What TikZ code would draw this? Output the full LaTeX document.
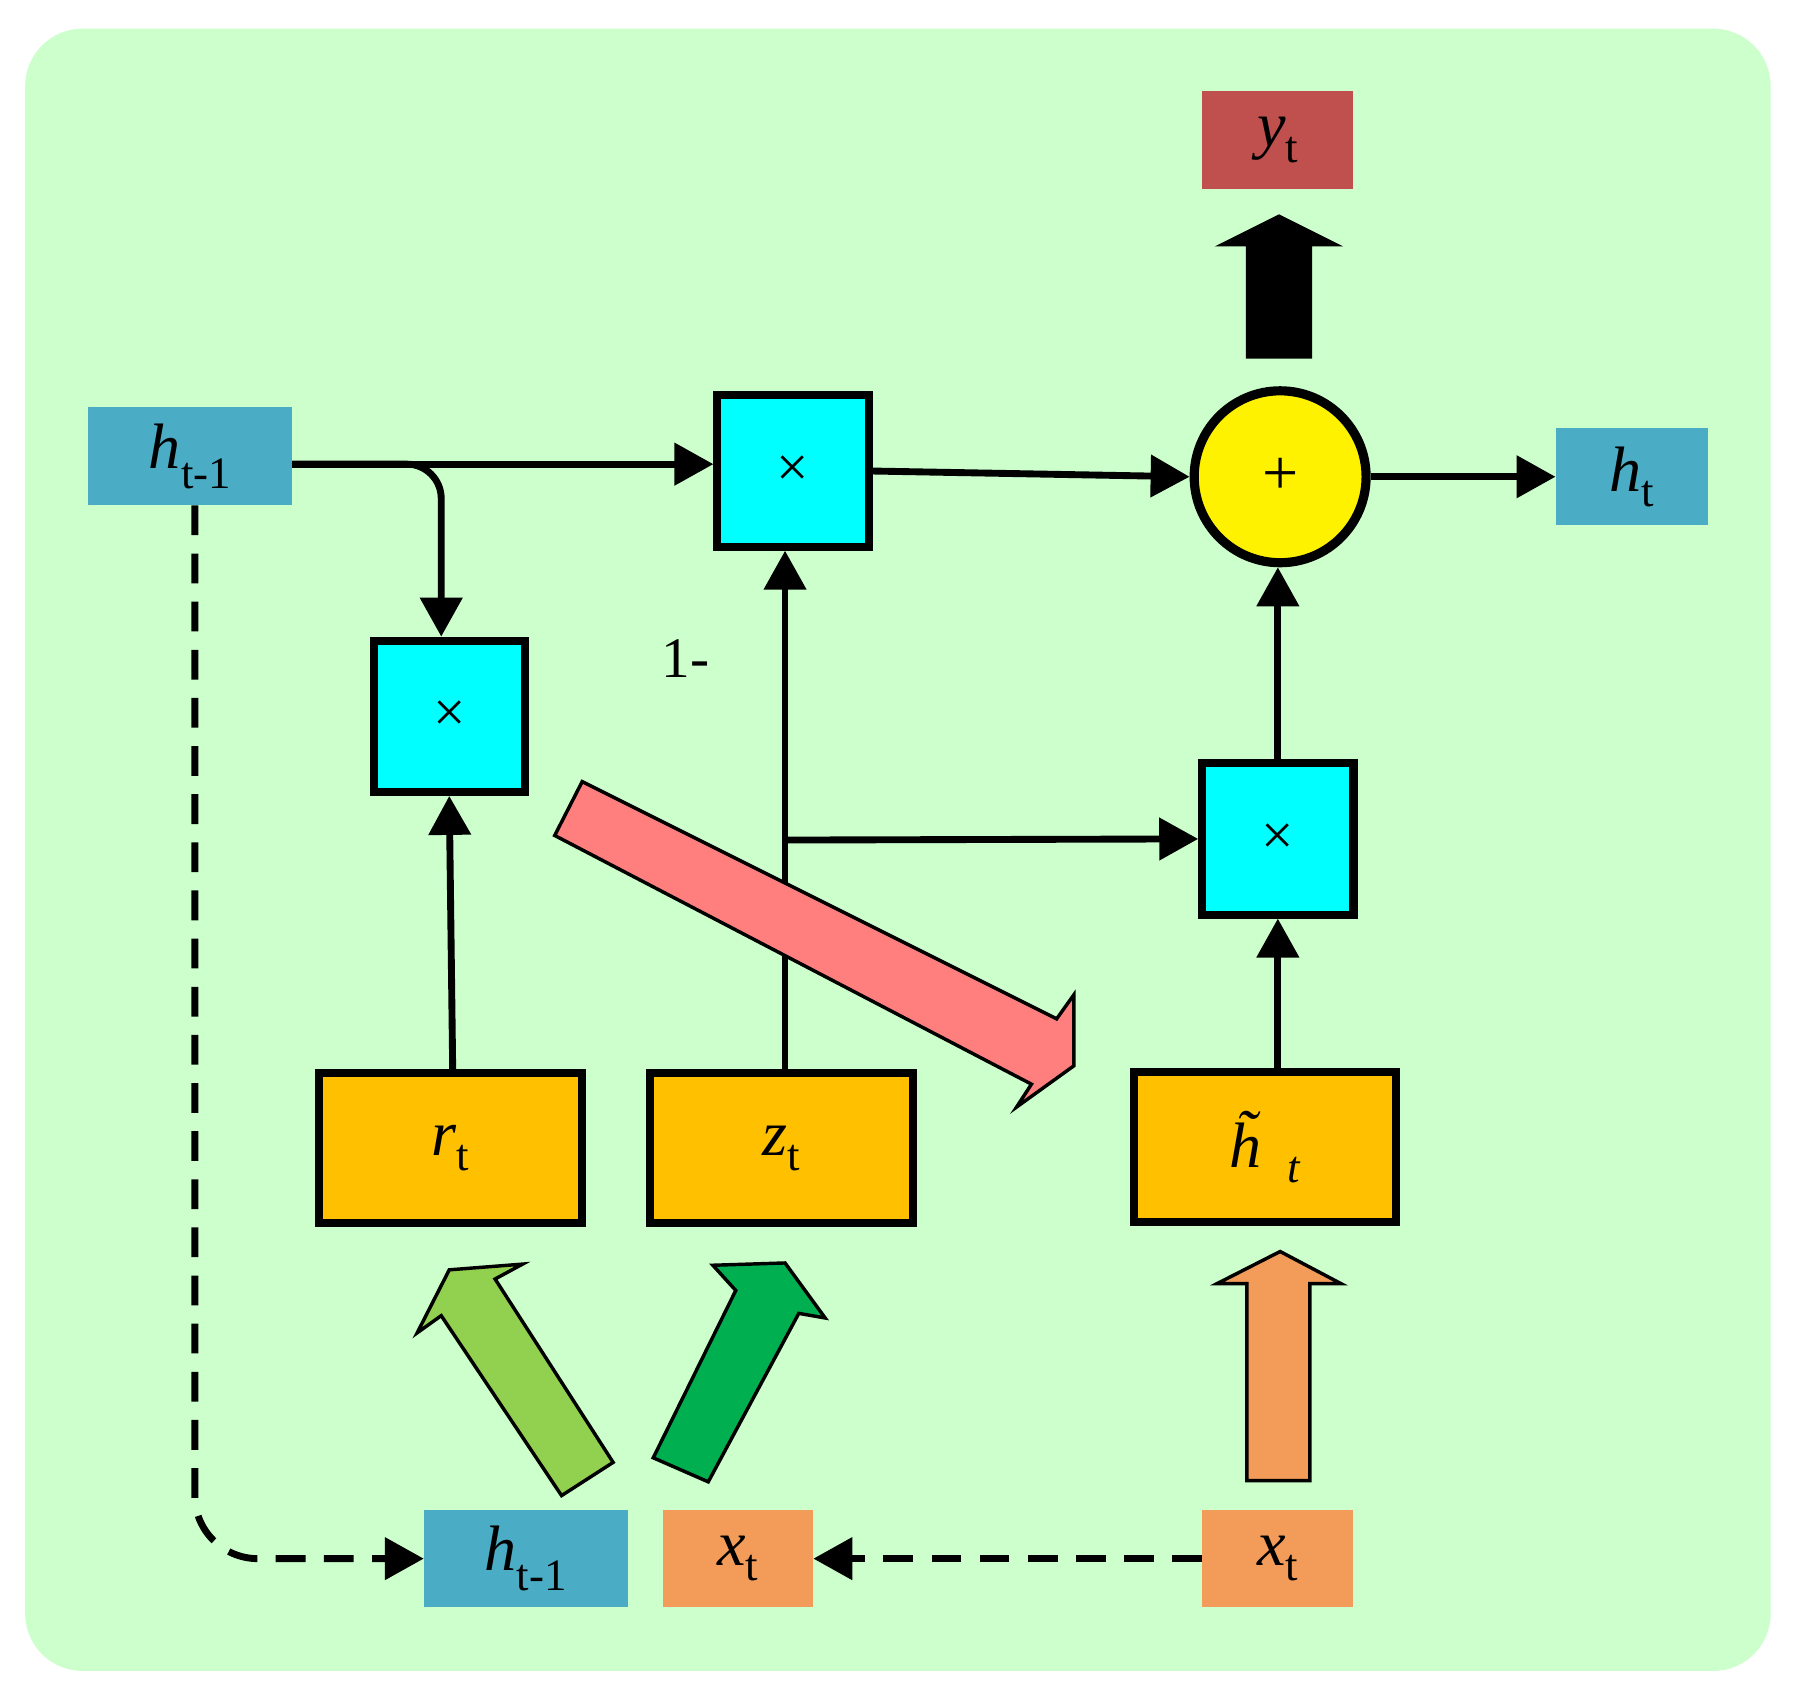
\documentclass[tikz,border=0pt]{standalone}
\usepackage{fontspec}
\setmainfont{Liberation Serif}
\usetikzlibrary{arrows.meta}
\definecolor{bg}{HTML}{CCFFCC}
\definecolor{hb}{HTML}{4BACC6}
\definecolor{yb}{HTML}{C0504D}
\definecolor{xb}{HTML}{F39C5A}
\definecolor{gate}{HTML}{FFC000}
\definecolor{pk}{HTML}{FF7F7F}
\definecolor{lg}{HTML}{92D050}
\definecolor{dg}{HTML}{00B050}
\definecolor{cy}{HTML}{00FFFF}
\begin{document}
\begin{tikzpicture}[x=1pt,y=-1pt,
 lab/.style={inner sep=0,font=\fontsize{56}{60}\selectfont},
 mul/.style={draw=black,line width=7pt,fill=cy,minimum size=132pt,inner sep=0,font=\fontsize{50}{50}\selectfont},
 gatebox/.style={draw=black,line width=7pt,fill=gate,minimum width=229pt,minimum height=131pt,inner sep=0,font=\fontsize{56}{60}\selectfont},
 ar/.style={line width=6pt,-{Triangle[length=34pt,width=36pt]}},
 dar/.style={ar,dash pattern=on 26pt off 16pt},
 fat/.style={draw=black,line width=3pt}]
\useasboundingbox (0,0) rectangle (1568,1483);
\fill[bg,rounded corners=50pt] (22,25) rectangle (1545,1458);
% labels
\node[fill=hb,minimum width=178pt,minimum height=85pt,lab] (h1) at (166,398) {\textit{h}\textsubscript{t-1}};
\node[fill=yb,minimum width=132pt,minimum height=85pt,lab] (y) at (1115,122) {\textit{y}\textsubscript{t}};
\node[fill=hb,minimum width=133pt,minimum height=85pt,lab] (ht) at (1424,416) {\textit{h}\textsubscript{t}};
\node[fill=hb,minimum width=178pt,minimum height=85pt,lab] (h2) at (459,1360) {\textit{h}\textsubscript{t-1}};
\node[fill=xb,minimum width=131pt,minimum height=85pt,lab] (x1) at (644,1360) {\textit{x}\textsubscript{t}};
\node[fill=xb,minimum width=132pt,minimum height=85pt,lab] (x2) at (1115,1360) {\textit{x}\textsubscript{t}};
% ops
\node[mul] (m1) at (692,411) {×};
\node[mul] (m2) at (392,625) {×};
\node[mul] (m3) at (1115,732) {×};
\node[draw=black,line width=8pt,fill=yellow,circle,minimum size=150pt,inner sep=0,font=\fontsize{56}{56}\selectfont] (p) at (1117,416) {+};
\node[lab,font=\fontsize{50}{50}\selectfont] (one) at (598,575) {1-};
% gates
\node[gatebox] (r) at (393,1002) {\textit{r}\textsubscript{t}};
\node[gatebox] (z) at (682,1002) {\textit{z}\textsubscript{t}};
\node[gatebox] (hh) at (1104,1001) {\textit{\~h}\textsubscript{\textit{t}}};
% helper coordinates
\coordinate (k385) at (385,0);
\coordinate (k395) at (395,0);
\coordinate (k685) at (685,0);
\coordinate (k405) at (0,405);
\coordinate (br) at (685,733);
\coordinate (c) at (170,441);
% connectors
\draw[ar] (h1.east|-k405) -- (m1.west|-k405);
\draw[ar,rounded corners=30pt] (h1.east|-k405) -- (385,405) -- (m2.north-|k385);
\draw[ar] (m1.east) -- (p.west);
\draw[ar] (p.east) -- (ht.west);
\draw[ar] (r.north-|k395) -- (m2.south);
\draw[ar] (z.north-|k685) -- (m1.south-|k685);
\draw[ar] (br) -- (m3.west);
\draw[ar] (hh.north-|m3.south) -- (m3.south);
\draw[ar] (m3.north) -- (p.south-|m3.north);
\draw[dar,rounded corners=55pt] (c) -- (170,1360) -- (h2.west);
\draw[dar] (x2.west) -- (x1.east);
% block arrows
\fill[black] (1087,313) -- (1087,215) -- (1060,215) -- (1116,187) -- (1172,215) -- (1145,215) -- (1145,313) -- cycle;
\filldraw[fill=pk,fat] (508,682) -- (922,889) -- (937,868) -- (937,930) -- (887,966) -- (900,946) -- (484,729) -- cycle;
\filldraw[fill=lg,fat] (490,1305) -- (385,1148) -- (364,1163) -- (392,1108) -- (456,1103) -- (432,1116) -- (535,1276) -- cycle;
\filldraw[fill=dg,fat] (570,1272) -- (642,1126) -- (622,1104) -- (685,1102) -- (720,1150) -- (697,1146) -- (618,1293) -- cycle;
\filldraw[fill=xb,fat] (1088,1292) -- (1088,1120) -- (1062,1120) -- (1117,1092) -- (1170,1120) -- (1143,1120) -- (1143,1292) -- cycle;
\end{tikzpicture}
\end{document}
